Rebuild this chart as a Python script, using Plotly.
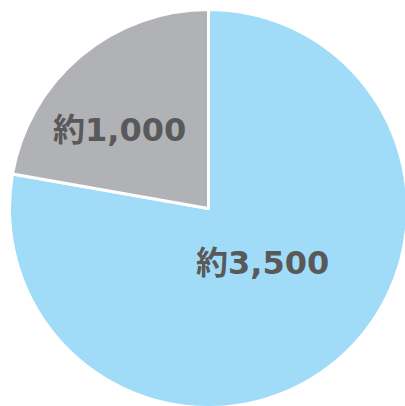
import plotly.graph_objects as go

categories = ["A", "B"]
values = [3500, 1000]
labels = ["約3,500", "約1,000"]
colors = ["#A0DCF8", "#B1B2B6"]

W, H = 412, 412
cx, cy, r = 208.5, 208.5, 199

fig = go.Figure()
fig.add_trace(go.Pie(
    labels=categories, values=values, sort=False, direction="clockwise",
    rotation=0, marker=dict(colors=colors, line=dict(color="white", width=3)),
    textinfo="none", hoverinfo="none", showlegend=False,
    domain=dict(x=[(cx - r) / W, (cx + r) / W], y=[1 - (cy + r) / H, 1 - (cy - r) / H]),
))

label_pos = [(262.5, 263), (119.5, 129.5)]
for t, (px, py) in zip(labels, label_pos):
    fig.add_annotation(text=t, x=px / W, y=1 - py / H, xref="paper", yref="paper",
                       showarrow=False, xanchor="center", yanchor="middle",
                       font=dict(family="DejaVu Sans, Noto Sans CJK JP", size=32,
                                 color="#595959", weight="bold"))

fig.update_layout(width=W, height=H, margin=dict(l=0, r=0, t=0, b=0),
                  paper_bgcolor="white", plot_bgcolor="white")
fig.write_html("out.html", config={"displayModeBar": False},
               post_script="document.body.style.margin='0';document.body.style.overflow='hidden';")
